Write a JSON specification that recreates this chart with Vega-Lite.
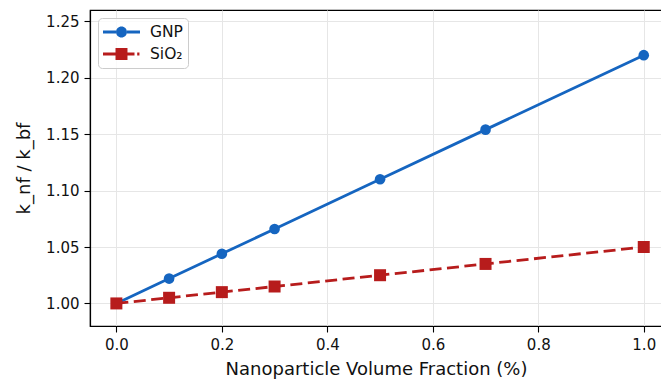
{
  "$schema": "https://vega.github.io/schema/vega-lite/v6.json",
  "autosize": {"type": "none"},
  "width": 572,
  "height": 316,
  "padding": {"left": 90, "top": 10, "right": 0, "bottom": 54},
  "background": "white",
  "data": {
    "values": [
      {"fraction": 0.0, "ratio": 1.000, "material": "GNP"},
      {"fraction": 0.1, "ratio": 1.022, "material": "GNP"},
      {"fraction": 0.2, "ratio": 1.044, "material": "GNP"},
      {"fraction": 0.3, "ratio": 1.066, "material": "GNP"},
      {"fraction": 0.5, "ratio": 1.110, "material": "GNP"},
      {"fraction": 0.7, "ratio": 1.154, "material": "GNP"},
      {"fraction": 1.0, "ratio": 1.220, "material": "GNP"},
      {"fraction": 0.0, "ratio": 1.000, "material": "SiO₂"},
      {"fraction": 0.1, "ratio": 1.005, "material": "SiO₂"},
      {"fraction": 0.2, "ratio": 1.010, "material": "SiO₂"},
      {"fraction": 0.3, "ratio": 1.015, "material": "SiO₂"},
      {"fraction": 0.5, "ratio": 1.025, "material": "SiO₂"},
      {"fraction": 0.7, "ratio": 1.035, "material": "SiO₂"},
      {"fraction": 1.0, "ratio": 1.050, "material": "SiO₂"}
    ]
  },
  "encoding": {
    "x": {
      "field": "fraction",
      "type": "quantitative",
      "scale": {"domain": [-0.05, 1.0346], "nice": false, "zero": false},
      "axis": {
        "title": "Nanoparticle Volume Fraction (%)",
        "values": [0, 0.2, 0.4, 0.6, 0.8, 1.0],
        "format": ".1f",
        "titlePadding": 8
      }
    },
    "y": {
      "field": "ratio",
      "type": "quantitative",
      "scale": {"domain": [0.98, 1.26], "nice": false, "zero": false},
      "axis": {
        "title": "k_nf / k_bf",
        "values": [1.0, 1.05, 1.1, 1.15, 1.2, 1.25],
        "format": ".2f",
        "titlePadding": 12
      }
    },
    "color": {
      "field": "material",
      "type": "nominal",
      "scale": {"domain": ["GNP", "SiO₂"], "range": ["#1565C0", "#B71C1C"]},
      "legend": {
        "title": null,
        "orient": "top-left",
        "offset": 8,
        "padding": 5,
        "fillColor": "rgba(255,255,255,0.8)",
        "strokeColor": "#cccccc",
        "cornerRadius": 4,
        "symbolSize": 324,
        "symbolStrokeWidth": 0,
        "labelFontSize": 15.5,
        "labelOffset": 29,
        "rowPadding": 4,
        "encode": {
          "symbols": {
            "update": {
              "shape": {"signal": "datum.value === 'GNP' ? 'M-1,-0.156H0.446V0.156H-1Z M1.666,-0.156H3.111V0.156H1.666Z M1.666,0A0.61,0.61 0 1,1 0.446,0A0.61,0.61 0 1,1 1.666,0Z' : 'M-1,-0.156H0.4V0.156H-1Z M0.39,-0.67H1.72V0.67H0.39Z M1.7,-0.156H2.5V0.156H1.7Z M2.8,-0.156H3.05V0.156H2.8Z'"},
              "fill": {"signal": "datum.value === 'GNP' ? '#1565C0' : '#B71C1C'"},
              "opacity": {"value": 1},
              "strokeWidth": {"value": 0}
            }
          }
        }
      }
    }
  },
  "layer": [
    {
      "transform": [{"filter": "datum.material === 'GNP'"}],
      "mark": {"type": "line", "strokeWidth": 2.8},
      "encoding": {}
    },
    {
      "transform": [{"filter": "datum.material === 'GNP'"}],
      "mark": {"type": "point", "shape": "circle", "filled": true, "opacity": 1, "size": 113},
      "encoding": {}
    },
    {
      "transform": [{"filter": "datum.material === 'SiO₂'"}],
      "mark": {"type": "line", "strokeWidth": 2.8, "strokeDash": [12, 5.5]},
      "encoding": {}
    },
    {
      "transform": [{"filter": "datum.material === 'SiO₂'"}],
      "mark": {"type": "point", "shape": "square", "filled": true, "opacity": 1, "size": 144},
      "encoding": {}
    }
  ],
  "config": {
    "font": "DejaVu Sans",
    "view": {"stroke": "black", "strokeWidth": 1.2},
    "axis": {
      "domainColor": "black",
      "domainWidth": 1.2,
      "tickColor": "black",
      "tickSize": 6,
      "tickWidth": 1.1,
      "labelPadding": 5,
      "labelFontSize": 15,
      "labelColor": "#111111",
      "labelFont": "DejaVu Sans",
      "titleFont": "DejaVu Sans",
      "titleFontSize": 18,
      "titleFontWeight": "normal",
      "titleColor": "#111111",
      "grid": true,
      "gridColor": "#e6e6e6",
      "gridWidth": 1
    },
    "legend": {"labelFont": "DejaVu Sans", "labelColor": "#111111"}
  }
}
